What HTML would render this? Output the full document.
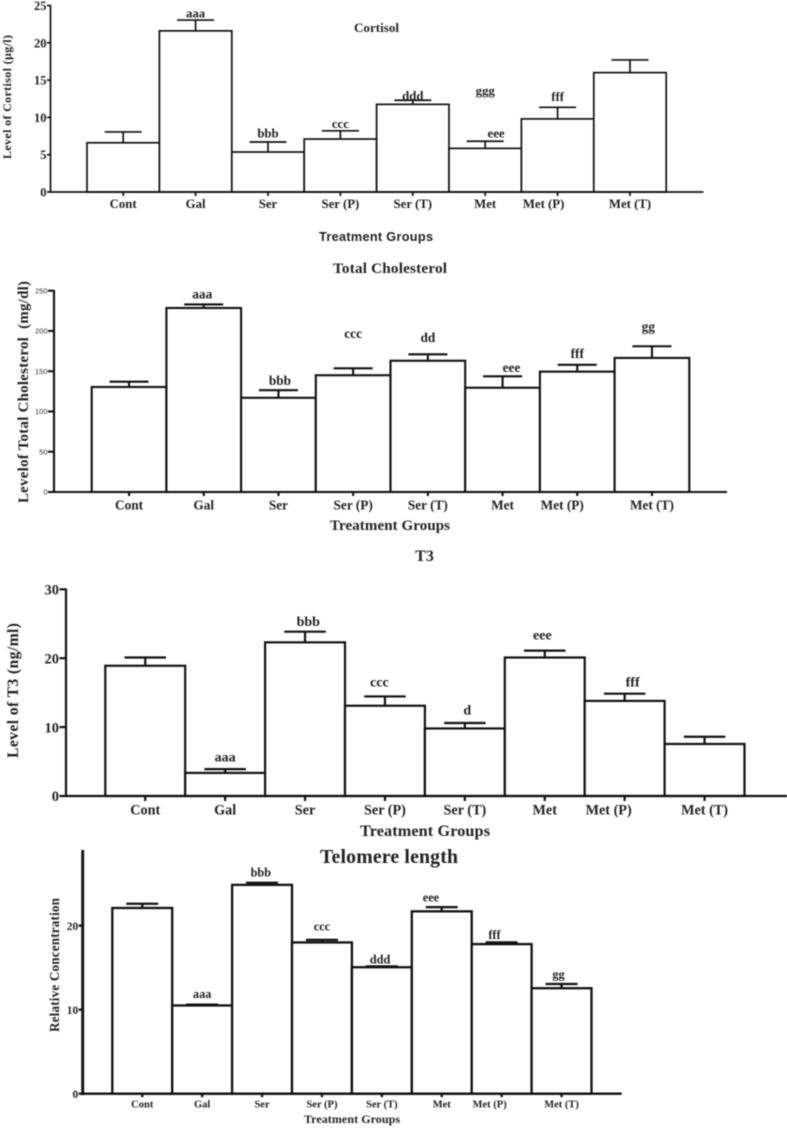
<!DOCTYPE html>
<html lang="en">
<head>
<meta charset="utf-8">
<title>Treatment group bar charts</title>
<style>
html,body{margin:0;padding:0;background:#fff;width:787px;height:1128px;overflow:hidden}
svg{display:block;filter:blur(0.4px)}
text{font-family:"Liberation Serif",serif;font-weight:bold;fill:#222}
.sans{font-family:"Liberation Sans",sans-serif}
</style>
</head>
<body>
<svg id="figure" xmlns="http://www.w3.org/2000/svg" width="787" height="1128" viewBox="0 0 787 1128">
  <rect x="0" y="0" width="787" height="1128" fill="#fff"/>

  <text x="376.5" y="32" font-size="13" text-anchor="middle" textLength="45">Cortisol</text>
  <text transform="translate(11,97) rotate(-90)" font-size="12" text-anchor="middle" textLength="124">Level of Cortisol (µg/l)</text>
  <text class="sans" x="376" y="241" font-size="12.7" text-anchor="middle" textLength="114">Treatment Groups</text>

  <text x="390" y="273" font-size="15.2" text-anchor="middle" textLength="114">Total Cholesterol</text>
  <text transform="translate(28,392) rotate(-90)" font-size="14.8" text-anchor="middle" textLength="222" xml:space="preserve">Levelof Total Cholesterol  (mg/dl)</text>
  <text x="390" y="530" font-size="15" text-anchor="middle" textLength="120">Treatment Groups</text>

  <text x="424.5" y="561" font-size="16" text-anchor="middle">T3</text>
  <text transform="translate(18,690.5) rotate(-90)" font-size="15.7" text-anchor="middle" textLength="135">Level of T3 (ng/ml)</text>
  <text x="425" y="836" font-size="16.2" text-anchor="middle" textLength="130">Treatment Groups</text>

  <text x="389" y="863" font-size="19.8" text-anchor="middle" textLength="138">Telomere length</text>
  <text transform="translate(59,965) rotate(-90)" font-size="13.2" text-anchor="middle" textLength="134">Relative Concentration</text>
  <text x="352" y="1123" font-size="12" text-anchor="middle" textLength="96">Treatment Groups</text>
</svg>
<script>
// Shared categories
const categories = ['Cont', 'Gal', 'Ser', 'Ser (P)', 'Ser (T)', 'Met', 'Met (P)', 'Met (T)'];

// Cortisol
const cortisolValues = [6.6, 21.6, 5.36, 7.1, 11.75, 5.85, 9.8, 16];
const cortisolUpper = [8.05, 23.05, 6.7, 8.2, 12.3, 6.8, 11.35, 17.7];
const cortisolTicks = [0, 5, 10, 15, 20, 25];
const cortisolSigLabels = ['aaa', 'bbb', 'ccc', 'ddd', 'eee', 'ggg', 'fff'];
const cortisolSigCats = [1, 2, 3, 4, 5.15, 5, 6];
const cortisolSigLevels = [23.4, 7.3, 8.6, 12.3, 7.3, 13, 12.2];

// Total cholesterol
const cholesterolValues = [130.4, 228.5, 117, 145, 163, 129.5, 149.5, 166.5];
const cholesterolUpper = [137, 233, 126.5, 153.6, 171, 143.7, 158, 181];
const cholesterolTicks = [0, 50, 100, 150, 200, 250];
const cholesterolSigLabels = ['aaa', 'bbb', 'ccc', 'dd', 'eee', 'fff', 'gg'];
const cholesterolSigCats = [0.98, 2.02, 3, 4, 5.12, 6, 6.95];
const cholesterolSigLevels = [240.6, 133, 191, 186, 149, 166.5, 200];

// T3
const t3Values = [18.9, 3.35, 22.3, 13.1, 9.8, 20.1, 13.8, 7.55];
const t3Upper = [20.1, 3.9, 23.85, 14.45, 10.6, 21.1, 14.85, 8.6];
const t3Ticks = [0, 10, 20, 30];
const t3SigLabels = ['aaa', 'bbb', 'ccc', 'd', 'eee', 'fff'];
const t3SigCats = [1, 2.04, 2.93, 4.03, 4.97, 6.1];
const t3SigLevels = [5, 24.7, 15.9, 11.8, 22.7, 15.9];

// Telomere length
const telomereValues = [22.1, 10.5, 24.85, 18, 15.05, 21.7, 17.8, 12.55];
const telomereUpper = [22.6, 10.6, 25.1, 18.3, 15.15, 22.2, 18, 13.05];
const telomereTicks = [0, 10, 20];
const telomereSigLabels = ['aaa', 'bbb', 'ccc', 'ddd', 'eee', 'fff', 'gg'];
const telomereSigCats = [1, 1.98, 3, 3.97, 4.82, 5.88, 6.95];
const telomereSigLevels = [11.4, 25.85, 19.4, 15.5, 22.85, 18.4, 13.7];

const SVG_NS = 'http://www.w3.org/2000/svg';
const figure = document.getElementById('figure');

function make(tag, attrs, parent) {
  const el = document.createElementNS(SVG_NS, tag);
  Object.keys(attrs).forEach(function (k) { el.setAttribute(k, attrs[k]); });
  parent.appendChild(el);
  return el;
}

function drawPanel(id, layout, values, upper, ticks, sigLabels, sigCats, sigLevels) {
  const g = make('g', {}, figure);
  
  

  const yScale = function (v) {
    return layout.zeroY - (v / layout.maxValue) * (layout.zeroY - layout.topY);
  };
  const barLeft = function (i) { return layout.firstBarLeft + i * layout.step; };
  const xCenter = function (i) { return barLeft(i) + layout.step / 2; };
  const sw = layout.stroke;

  values.forEach(function (v, i) {
    const cx = xCenter(i);
    const errLine = make('line', { x1: cx, x2: cx, y1: yScale(v), y2: yScale(upper[i]), stroke: '#111', 'stroke-width': sw }, g);
    
    
    const cap = make('line', { x1: cx - layout.capWidth / 2, x2: cx + layout.capWidth / 2, y1: yScale(upper[i]), y2: yScale(upper[i]), stroke: '#111', 'stroke-width': sw }, g);
    
    
    const bar = make('rect', { x: barLeft(i), y: yScale(v), width: layout.step, height: layout.zeroY - yScale(v), fill: '#fff', stroke: '#111', 'stroke-width': sw }, g);
    
    
  });

  const yAxis = make('line', { x1: layout.axisX, x2: layout.axisX, y1: layout.axisTop, y2: layout.zeroY + layout.axisStroke / 2, stroke: '#111', 'stroke-width': layout.axisStroke }, g);
  
  
  const xAxis = make('line', { x1: layout.axisX, x2: layout.axisEnd, y1: layout.zeroY, y2: layout.zeroY, stroke: '#111', 'stroke-width': sw }, g);
  
  

  ticks.forEach(function (t) {
    const y = yScale(t);
    const tick = make('line', { x1: layout.axisX - layout.yTickLen, x2: layout.axisX, y1: y, y2: y, stroke: '#111', 'stroke-width': sw }, g);
    
    
    const label = make('text', { x: layout.axisX - layout.yTickLen - 0.5, y: y + layout.yTickSize * 0.36, 'text-anchor': 'end', 'font-size': layout.yTickSize }, g);
    
    
    if (layout.yTickSans) {
      label.setAttribute('class', 'sans');
      label.setAttribute('style', 'font-weight:normal;fill:#333');
    }
    label.textContent = t;
  });

  categories.forEach(function (c, i) {
    const cx = xCenter(i);
    const tick = make('line', { x1: cx, x2: cx, y1: layout.zeroY, y2: layout.zeroY + layout.xTickLen, stroke: '#111', 'stroke-width': sw }, g);
    
    
    const shift = c === 'Met (P)' ? layout.metPShift : 0;
    const label = make('text', { x: cx + shift, y: layout.xLabelY, 'text-anchor': 'middle', 'font-size': layout.xLabelSize }, g);
    
    
    label.textContent = c;
  });

  sigLabels.forEach(function (s, i) {
    const label = make('text', { x: xCenter(sigCats[i]), y: yScale(sigLevels[i]), 'text-anchor': 'middle', 'font-size': layout.sigSize }, g);
    
    
    label.textContent = s;
  });
}

const cortisolLayout = { firstBarLeft: 87, step: 72.4, zeroY: 192, topY: 5.5, maxValue: 25, axisX: 50.5, axisTop: 5, axisEnd: 703.5, stroke: 1.7, axisStroke: 1.7, capWidth: 37, yTickLen: 3.5, xTickLen: 4, yTickSize: 12.5, xLabelY: 208, xLabelSize: 12.8, metPShift: -14, sigSize: 12.8 };
const cholesterolLayout = { firstBarLeft: 91.7, step: 74.7, zeroY: 492, topY: 290.7, maxValue: 250, axisX: 54, axisTop: 290, axisEnd: 727, stroke: 2.1, axisStroke: 2.1, capWidth: 39, yTickLen: 6, xTickLen: 4, yTickSize: 7.5, yTickSans: true, xLabelY: 509.5, xLabelSize: 13.3, metPShift: -15, sigSize: 13.3 };
const t3Layout = { firstBarLeft: 105.3, step: 79.9, zeroY: 796, topY: 589.3, maxValue: 30, axisX: 66, axisTop: 588.5, axisEnd: 787, stroke: 2.2, axisStroke: 2.2, capWidth: 41.5, yTickLen: 6.5, xTickLen: 5, yTickSize: 14.5, xLabelY: 814.5, xLabelSize: 14.2, metPShift: -16, sigSize: 14 };
const telomereLayout = { firstBarLeft: 112.3, step: 59.9, zeroY: 1093.7, topY: 850, maxValue: 29, axisX: 82.7, axisTop: 850, axisEnd: 621.7, stroke: 2.3, axisStroke: 2.9, capWidth: 32, yTickLen: 4, xTickLen: 3.5, yTickSize: 11.5, xLabelY: 1107.5, xLabelSize: 10.5, metPShift: -12, sigSize: 12.3 };

drawPanel('cortisol', cortisolLayout, cortisolValues, cortisolUpper, cortisolTicks, cortisolSigLabels, cortisolSigCats, cortisolSigLevels);
drawPanel('cholesterol', cholesterolLayout, cholesterolValues, cholesterolUpper, cholesterolTicks, cholesterolSigLabels, cholesterolSigCats, cholesterolSigLevels);
drawPanel('t3', t3Layout, t3Values, t3Upper, t3Ticks, t3SigLabels, t3SigCats, t3SigLevels);
drawPanel('telomere', telomereLayout, telomereValues, telomereUpper, telomereTicks, telomereSigLabels, telomereSigCats, telomereSigLevels);
</script>
</body>
</html>
